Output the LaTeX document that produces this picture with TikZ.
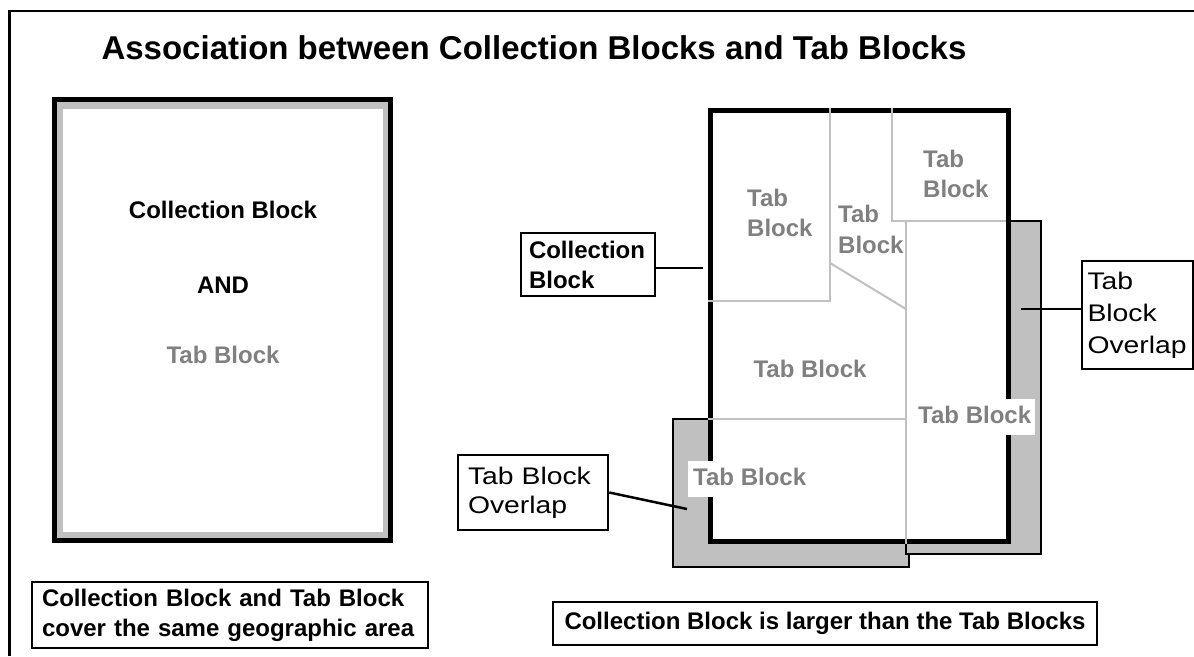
\documentclass[tikz,border=0pt]{standalone}
\usepackage{fontspec}
\setmainfont{Liberation Sans}
\newfontfamily\widefont[FakeStretch=1.18]{Liberation Sans}
\definecolor{band}{HTML}{C0C0C0}
\definecolor{tabtext}{HTML}{808080}
\begin{document}
\begin{tikzpicture}[x=1pt,y=-1pt,
  boldtxt/.style={font=\bfseries\fontsize{24}{30}\selectfont, inner sep=0pt},
  tabtxt/.style={boldtxt, text=tabtext, align=left},
  tabwhite/.style={font=\bfseries\fontsize{24}{30}\selectfont, text=tabtext, fill=white,
     inner xsep=4pt, inner ysep=5pt, text height=19pt, text depth=7pt, anchor=base west},
  lbl/.style={draw=black, line width=2.5pt, fill=white, align=left},
  overlap/.style={fill=band, draw=black, line width=1.3pt},
  tabline/.style={draw=band, line width=2pt},
  conn/.style={draw=black, line width=2.5pt}]
\useasboundingbox (0,0) rectangle (1194,656);
% outer frame (right and bottom edges lie outside the picture)
\draw[line width=2.5pt] (9.5,656) -- (9.5,11) -- (1194,11);
% title
\node[font=\bfseries\fontsize{33}{40}\selectfont, inner sep=0pt, anchor=base] (title) at (534,59)
  {Association between Collection Blocks and Tab Blocks};

% ---------- left: same area ----------
\node[draw=black, line width=5pt, fill=band, minimum width=336pt, minimum height=441pt, inner sep=0pt] (same) at (222.5,320) {};
\fill[white] (63,109) rectangle (383,532);
\node[boldtxt, anchor=base] (cbA) at (223,218) {Collection Block};
\node[boldtxt, anchor=base] (and) at (223,293) {AND};
\node[boldtxt, anchor=base, text=tabtext] (tbA) at (223,363) {Tab Block};
\node[lbl, font=\bfseries\fontsize{24}{30}\selectfont, minimum width=396pt, minimum height=66pt,
      inner xsep=10pt, text width=376pt] (capL) at (230,615)
  {Collection Block and Tab Block\\cover the same geographic area};

% ---------- right: larger collection block ----------
\draw[overlap] (673,419) rectangle (909,567);
\draw[overlap] (906,221) rectangle (1041,554);
\node[draw=black, line width=5pt, fill=white, minimum width=297.5pt, minimum height=431pt, inner sep=0pt] (coll) at (859.25,326) {};
% tab block boundaries
\draw[tabline] (830,108) -- (830,301) -- (708,301);
\draw[tabline] (892,108) -- (892,221) -- (1006,221);
\draw[tabline] (830,263) -- (906,309);
\draw[tabline] (906,221) -- (906,544);
\draw[tabline] (708,419) -- (906,419);
% tab block labels
\node[tabtxt, anchor=north west] (tb1) at (747,188.5) {Tab\\Block};
\node[tabtxt, anchor=north west, font=\bfseries\fontsize{24}{31}\selectfont] (tb2) at (838,204.5) {Tab\\Block};
\node[tabtxt, anchor=north west] (tb3) at (923,149.5) {Tab\\Block};
\node[boldtxt, text=tabtext, anchor=base] (tb4) at (810,377) {Tab Block};
\node[tabwhite] (tb5) at (914,423) {Tab Block};
\node[tabwhite, inner xsep=5pt] (tb6) at (688,485) {Tab Block};

% callout labels
\node[lbl, font=\bfseries\fontsize{24}{30}\selectfont, minimum width=134pt, minimum height=63pt,
      inner xsep=8pt, text width=118pt] (cbL) at (588,264.5) {Collection\\Block};
\node[lbl, font=\widefont\fontsize{24}{29}\selectfont, minimum width=150pt, minimum height=75pt,
      inner xsep=10pt, text width=130pt] (ovL) at (533,492.5) {Tab Block\\Overlap};
\node[lbl, font=\widefont\fontsize{24}{32}\selectfont, minimum width=111pt, minimum height=108pt,
      inner xsep=5.5pt, text width=100pt] (ovR) at (1137.5,315) {Tab\\Block\\Overlap};
\node[draw=black, line width=2.5pt, fill=white, font=\bfseries\fontsize{24}{30}\selectfont,
      minimum width=544pt, minimum height=43pt, inner xsep=4pt] (capR) at (825,623.5)
  {Collection Block is larger than the Tab Blocks};

% connectors
\coordinate (p1) at (703,268);
\coordinate (p2) at (687,509);
\coordinate (p3) at (1021,309);
\draw[conn] (cbL.east |- p1) -- (p1);
\draw[conn] (ovL.east) -- (p2);
\draw[conn] (p3) -- (ovR.west |- p3);
\end{tikzpicture}
\end{document}
